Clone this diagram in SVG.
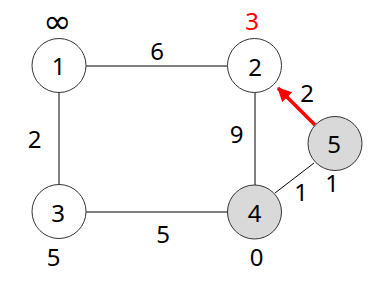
<svg xmlns="http://www.w3.org/2000/svg" width="392" height="290" viewBox="0 0 392 290">
<style>
text{font-family:"Noto Sans","Open Sans",sans-serif;font-size:24px;text-anchor:middle;fill:#000}
.n{stroke:#333;stroke-width:1;fill:#fff}
.g{fill:#d9d9d9}
.e{stroke:#000;stroke-width:1;fill:none}
.r{fill:#f00}
.inf{font-family:"DejaVu Sans",sans-serif;font-size:34px}
</style>
<defs>
<marker id="ah" markerUnits="userSpaceOnUse" markerWidth="14" markerHeight="14" refX="13" refY="7" orient="auto">
<path d="M0,0 L14,7 L0,14 Z" fill="#f00"/>
</marker>
</defs>
<rect width="392" height="290" fill="#fff"/>
<g id="connectors">
<line class="e" x1="86" y1="66" x2="227" y2="66"/>
<line class="e" x1="59" y1="92" x2="59" y2="185"/>
<line class="e" x1="86" y1="212" x2="227" y2="212"/>
<line class="e" x1="255" y1="92" x2="255" y2="186"/>
<line class="e" x1="314" y1="163" x2="275" y2="193"/>
<line x1="315" y1="125" x2="278" y2="88" stroke="#f00" stroke-width="3.5" marker-end="url(#ah)"/>
<text x="157" y="60">6</text>
<text x="34.5" y="148">2</text>
<text x="236.5" y="143">9</text>
<text x="307" y="102">2</text>
<text x="301" y="201">1</text>
<text x="163" y="243">5</text>
</g>
<g id="node1">
<circle class="n" cx="59" cy="65.5" r="27"/>
<text x="58.5" y="75">1</text>
<text class="inf" x="57.5" y="33">∞</text>
</g>
<g id="node2">
<circle class="n" cx="254.5" cy="65.5" r="27"/>
<text x="255" y="76">2</text>
<text class="r" x="252" y="30">3</text>
</g>
<g id="node3">
<circle class="n" cx="59" cy="211.5" r="27"/>
<text x="58" y="222">3</text>
<text x="53.5" y="266">5</text>
</g>
<g id="node4">
<circle class="n g" cx="254.5" cy="212" r="27"/>
<text x="254.5" y="222">4</text>
<text x="256.5" y="266">0</text>
</g>
<g id="node5">
<circle class="n g" cx="335" cy="143.5" r="27"/>
<text x="334" y="153">5</text>
<text x="332" y="192">1</text>
</g>
</svg>
